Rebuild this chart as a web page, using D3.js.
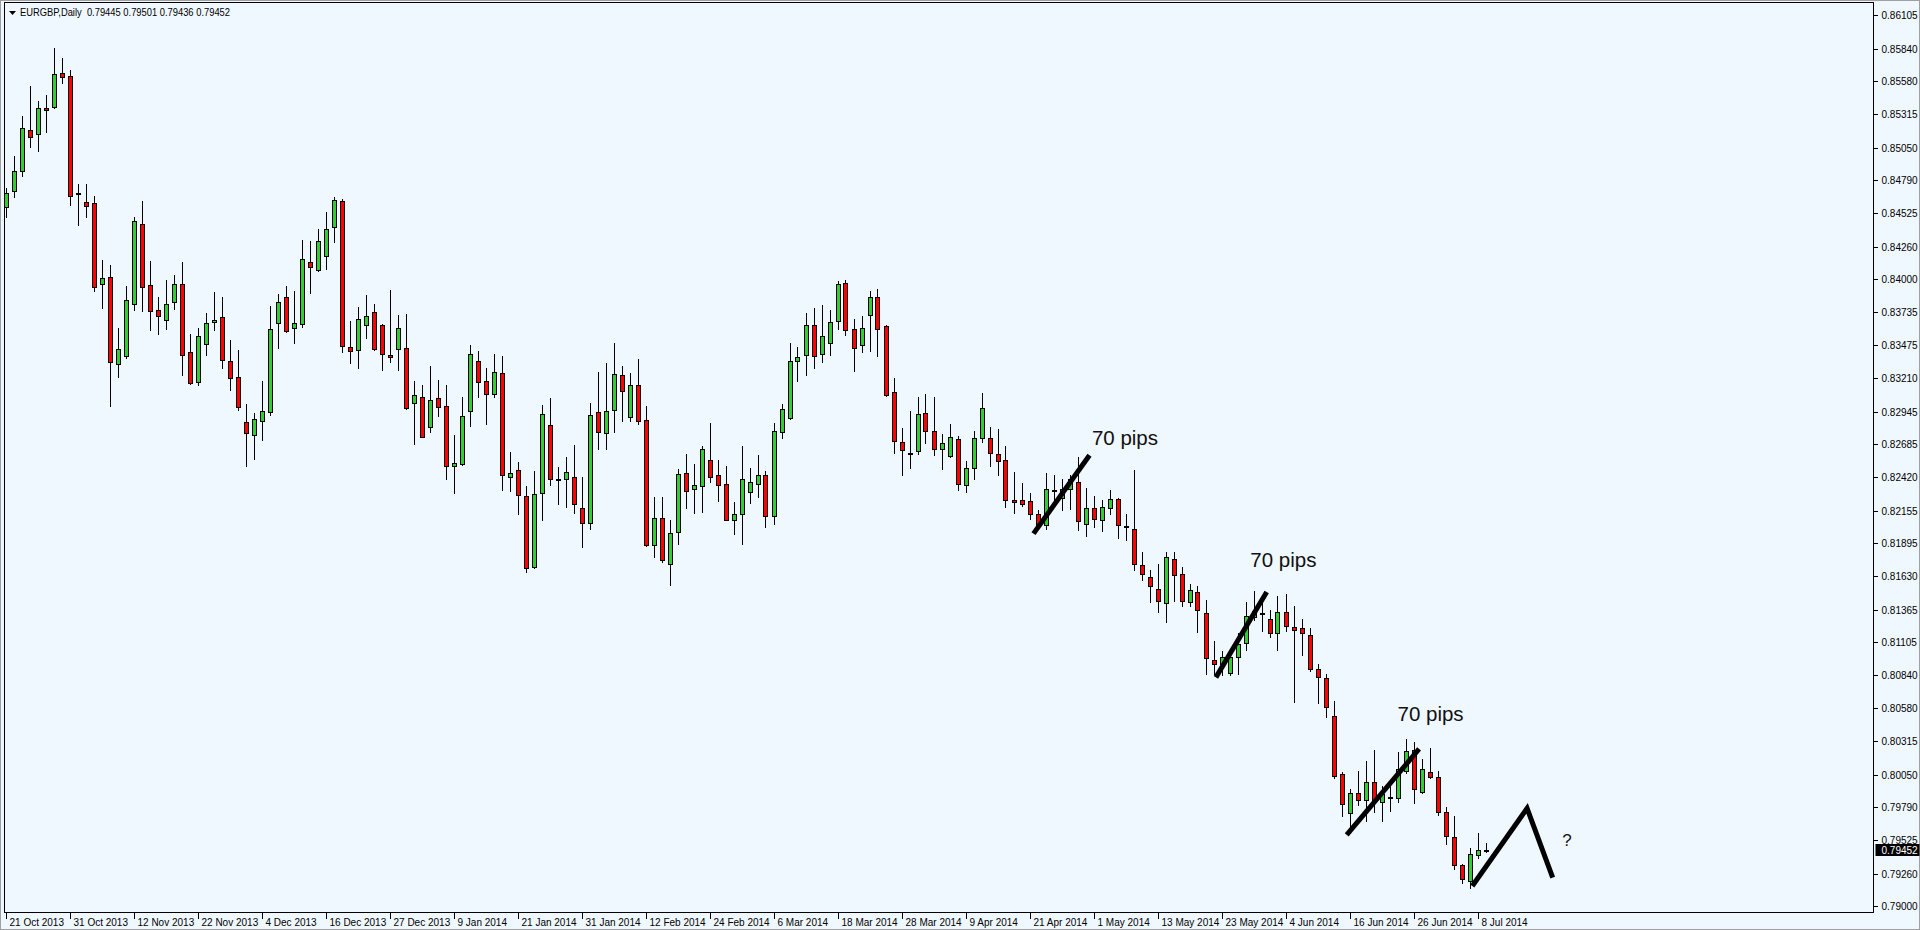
<!DOCTYPE html>
<html><head><meta charset="utf-8">
<script src="https://cdn.jsdelivr.net/npm/d3@7"></script>
<style>
html,body{margin:0;padding:0;background:#F0F8FF;overflow:hidden}
svg{display:block}
text{font-family:"Liberation Sans",Arial,sans-serif}
</style></head><body>
<script>
// ---- data: EURGBP daily candles (bar index 0 = 21 Oct 2013) ----
const opens = [0.84574,0.84701,0.84858,0.85188,0.85156,0.85363,0.85371,0.85642,0.85619,0.84690,0.84614,0.84606,0.83960,0.84016,0.83322,0.83386,0.83800,0.84438,0.83952,0.83752,0.83673,0.83816,0.83960,0.83417,0.83178,0.83481,0.83657,0.83697,0.83346,0.83218,0.82859,0.82756,0.82867,0.82939,0.83649,0.83856,0.83609,0.83641,0.84135,0.84074,0.84183,0.84414,0.84622,0.83457,0.83433,0.83633,0.83736,0.83633,0.83394,0.83441,0.83449,0.83011,0.83059,0.82819,0.83051,0.82987,0.82508,0.82524,0.82947,0.83346,0.83186,0.83082,0.83250,0.82420,0.82476,0.82269,0.81703,0.82293,0.82835,0.82409,0.82405,0.82420,0.82173,0.82054,0.82939,0.82771,0.82955,0.83234,0.82899,0.83154,0.82875,0.81878,0.82094,0.81727,0.81982,0.82452,0.82325,0.82349,0.82556,0.82436,0.82365,0.82078,0.82126,0.82301,0.82365,0.82436,0.82110,0.82779,0.82891,0.83346,0.83394,0.83633,0.83402,0.83489,0.83665,0.83968,0.83601,0.83473,0.83712,0.83856,0.83625,0.83098,0.82700,0.82617,0.82628,0.82931,0.82787,0.82644,0.82588,0.82724,0.82357,0.82492,0.82732,0.82732,0.82604,0.82556,0.82237,0.82237,0.82229,0.82126,0.82038,0.82317,0.82255,0.82325,0.82381,0.82046,0.82173,0.82078,0.82173,0.82245,0.82034,0.82006,0.81719,0.81623,0.81527,0.81416,0.81767,0.81647,0.81424,0.81503,0.81336,0.80961,0.80929,0.80857,0.80985,0.81097,0.81309,0.81336,0.81288,0.81176,0.81344,0.81224,0.81216,0.81160,0.80889,0.80818,0.80515,0.80052,0.79749,0.79900,0.79845,0.79988,0.79831,0.79873,0.79861,0.80076,0.80246,0.79908,0.80068,0.80028,0.79749,0.79550,0.79326,0.79199,0.79406,0.79445];
const highs = [0.84725,0.84983,0.85302,0.85541,0.85421,0.85469,0.85844,0.85764,0.85669,0.84760,0.84760,0.84664,0.84154,0.84114,0.83611,0.83946,0.84496,0.84624,0.84146,0.83858,0.83994,0.84034,0.84138,0.83563,0.83611,0.83728,0.83898,0.83858,0.83516,0.83436,0.83005,0.82933,0.83189,0.83787,0.83882,0.83946,0.83906,0.84313,0.84305,0.84401,0.84536,0.84656,0.84640,0.83667,0.83779,0.83874,0.83803,0.83643,0.83914,0.83715,0.83723,0.83189,0.83157,0.83306,0.83197,0.83157,0.82758,0.83061,0.83476,0.83428,0.83292,0.83404,0.83388,0.82622,0.82543,0.82351,0.82471,0.82997,0.83053,0.82503,0.82582,0.82678,0.82423,0.83013,0.83260,0.83332,0.83492,0.83308,0.83252,0.83364,0.82989,0.82263,0.82263,0.82080,0.82484,0.82606,0.82527,0.82670,0.82854,0.82559,0.82511,0.82224,0.82670,0.82495,0.82598,0.82471,0.82854,0.83005,0.83492,0.83460,0.83731,0.83771,0.83795,0.83755,0.83986,0.83994,0.83683,0.83707,0.83906,0.83922,0.83633,0.83212,0.82814,0.82949,0.83061,0.83085,0.83061,0.82766,0.82846,0.82750,0.82551,0.82790,0.83093,0.82822,0.82806,0.82670,0.82463,0.82375,0.82295,0.82160,0.82455,0.82439,0.82407,0.82439,0.82582,0.82333,0.82269,0.82237,0.82317,0.82255,0.82126,0.82479,0.81822,0.81679,0.81727,0.81822,0.81822,0.81705,0.81570,0.81554,0.81440,0.81113,0.81033,0.81019,0.81176,0.81426,0.81514,0.81426,0.81362,0.81474,0.81490,0.81394,0.81290,0.81219,0.80929,0.80849,0.80634,0.80068,0.79932,0.80076,0.80156,0.80246,0.79959,0.79959,0.80232,0.80334,0.80307,0.80172,0.80259,0.80076,0.79789,0.79717,0.79334,0.79462,0.79581,0.79501];
const lows = [0.84494,0.84658,0.84826,0.85057,0.85025,0.85177,0.85365,0.85563,0.84594,0.84435,0.84499,0.83909,0.83773,0.82992,0.83223,0.83374,0.83757,0.83749,0.83598,0.83566,0.83606,0.83765,0.83239,0.83168,0.83154,0.83398,0.83598,0.83295,0.83119,0.82960,0.82513,0.82569,0.82720,0.82915,0.83454,0.83583,0.83494,0.83617,0.83893,0.84068,0.84084,0.84299,0.83422,0.83334,0.83295,0.83534,0.83433,0.83279,0.83342,0.83279,0.82969,0.82688,0.82738,0.82784,0.82912,0.82409,0.82298,0.82522,0.82832,0.83063,0.82848,0.83063,0.82322,0.82314,0.82130,0.81668,0.81700,0.82082,0.82362,0.82210,0.82186,0.82138,0.81867,0.82008,0.82649,0.82649,0.82784,0.82872,0.82872,0.82848,0.81873,0.81787,0.81743,0.81562,0.81891,0.82178,0.82138,0.82146,0.82385,0.82234,0.82076,0.81971,0.81891,0.82218,0.82266,0.82027,0.82050,0.82730,0.82889,0.83191,0.83239,0.83295,0.83342,0.83398,0.83606,0.83553,0.83271,0.83422,0.83430,0.83390,0.83072,0.82617,0.82441,0.82497,0.82609,0.82696,0.82601,0.82489,0.82586,0.82317,0.82301,0.82405,0.82704,0.82513,0.82441,0.82186,0.82138,0.82194,0.82086,0.82014,0.82006,0.82213,0.82160,0.82165,0.81998,0.81950,0.82027,0.81990,0.82130,0.81934,0.81921,0.81679,0.81599,0.81424,0.81344,0.81264,0.81432,0.81392,0.81392,0.81184,0.80849,0.80849,0.80841,0.80841,0.80849,0.81041,0.81283,0.81192,0.81144,0.81041,0.81192,0.80631,0.81001,0.80873,0.80623,0.80511,0.80020,0.79717,0.79581,0.79805,0.79677,0.79754,0.79677,0.79757,0.79829,0.80060,0.79821,0.79906,0.80026,0.79725,0.79494,0.79294,0.79183,0.79143,0.79382,0.79436];
const closes = [0.84685,0.84861,0.85204,0.85129,0.85363,0.85347,0.85634,0.85610,0.84661,0.84690,0.84582,0.83933,0.84008,0.83338,0.83441,0.83832,0.84462,0.83936,0.83744,0.83704,0.83800,0.83960,0.83394,0.83170,0.83547,0.83649,0.83673,0.83354,0.83210,0.82976,0.82771,0.82883,0.82947,0.83601,0.83816,0.83585,0.83649,0.84159,0.84095,0.84303,0.84398,0.84630,0.83465,0.83425,0.83681,0.83704,0.83441,0.83402,0.83377,0.83609,0.82971,0.83074,0.82740,0.83035,0.82979,0.82508,0.82532,0.82907,0.83402,0.83178,0.83082,0.83258,0.82436,0.82452,0.82277,0.81695,0.82285,0.82923,0.82405,0.82409,0.82460,0.82205,0.82054,0.82915,0.82779,0.82947,0.83242,0.83106,0.83154,0.82867,0.81875,0.82094,0.81759,0.81974,0.82444,0.82309,0.82359,0.82644,0.82420,0.82357,0.82078,0.82126,0.82405,0.82381,0.82436,0.82110,0.82787,0.82963,0.83346,0.83377,0.83633,0.83386,0.83545,0.83657,0.83960,0.83593,0.83449,0.83609,0.83856,0.83601,0.83074,0.82708,0.82636,0.82617,0.82923,0.82787,0.82644,0.82692,0.82740,0.82365,0.82492,0.82732,0.82971,0.82612,0.82548,0.82237,0.82221,0.82205,0.82126,0.82027,0.82325,0.82317,0.82325,0.82405,0.82070,0.82173,0.82086,0.82181,0.82245,0.82038,0.82034,0.81727,0.81647,0.81551,0.81432,0.81783,0.81639,0.81432,0.81519,0.81360,0.80977,0.80929,0.80985,0.80985,0.81089,0.81312,0.81357,0.81336,0.81176,0.81344,0.81232,0.81200,0.81176,0.80889,0.80825,0.80586,0.80036,0.79813,0.79905,0.79845,0.79988,0.79847,0.79895,0.79873,0.80092,0.80235,0.79932,0.80092,0.80028,0.79749,0.79558,0.79326,0.79215,0.79414,0.79446,0.79452];

const yTickValues = [0.86105,0.85840,0.85580,0.85315,0.85050,0.84790,0.84525,0.84260,0.84000,0.83735,0.83475,0.83210,0.82945,0.82685,0.82420,0.82155,0.81895,0.81630,0.81365,0.81105,0.80840,0.80580,0.80315,0.80050,0.79790,0.79525,0.79260,0.79000];
const xTickIndex = [0,8,16,24,32,40,48,56,64,72,80,88,96,104,112,120,128,136,144,152,160,168,176,184];
const xTickLabels = ["21 Oct 2013","31 Oct 2013","12 Nov 2013","22 Nov 2013","4 Dec 2013","16 Dec 2013","27 Dec 2013","9 Jan 2014","21 Jan 2014","31 Jan 2014","12 Feb 2014","24 Feb 2014","6 Mar 2014","18 Mar 2014","28 Mar 2014","9 Apr 2014","21 Apr 2014","1 May 2014","13 May 2014","23 May 2014","4 Jun 2014","16 Jun 2014","26 Jun 2014","8 Jul 2014"];
const titleText = "EURGBP,Daily  0.79445 0.79501 0.79436 0.79452";
const lastPrice = 0.79452;

// annotation lines, in (bar index, price)
const pipLines = [
  [[128.5,0.81971],[135.5,0.82596]],
  [[151.3,0.80825],[157.65,0.81506]],
  [[167.65,0.79568],[176.7,0.80254]]
];
const pipLabels = [[135.8,0.82678,"70 pips"],[155.6,0.81708,"70 pips"],[174.0,0.80477,"70 pips"]];
const zigzag = [[183.35,0.79161],[190.2,0.79781],[193.4,0.79227]];
const questionMark = [194.6,0.79480,"?"];

// ---- drawing ----
const W = 1920, H = 930;
const frame = {l:4.5, r:1873.5, t:2.5, b:912.5};
const svg = d3.select("body").append("svg").attr("width",W).attr("height",H);
svg.append("rect").attr("width",W).attr("height",H).attr("fill","#F0F8FF");

const x = d3.scaleLinear().domain([0,185]).range([5.5, 5.5+8*185]);
const y = d3.scaleLinear().domain([0.79000,0.86105]).range([906.2,15.3]);

const data = opens.map((o,i)=>({i,o,h:highs[i],l:lows[i],c:closes[i]}));

const plot = svg.append("g");
plot.append("defs").append("clipPath").attr("id","clip")
  .append("rect").attr("x",frame.l).attr("y",frame.t).attr("width",frame.r-frame.l).attr("height",frame.b-frame.t);
const cg = plot.append("g").attr("clip-path","url(#clip)");

const candle = cg.selectAll("g.c").data(data).join("g").attr("class","c");
candle.append("line")
  .attr("x1",d=>Math.round(x(d.i))+0.5).attr("x2",d=>Math.round(x(d.i))+0.5)
  .attr("y1",d=>Math.round(y(d.h))).attr("y2",d=>Math.round(y(d.l))+1)
  .attr("stroke","#000").attr("stroke-width",1).attr("shape-rendering","crispEdges");
candle.filter(d=>Math.abs(y(d.o)-y(d.c))>=1.5).append("rect")
  .attr("x",d=>Math.round(x(d.i))-1.5).attr("width",4)
  .attr("y",d=>Math.round(Math.min(y(d.o),y(d.c)))+0.5)
  .attr("height",d=>Math.max(1,Math.round(Math.abs(y(d.o)-y(d.c)))))
  .attr("fill",d=>d.c>=d.o?"#32CD32":"#FF0000")
  .attr("stroke","#000").attr("stroke-width",1).attr("shape-rendering","crispEdges");
candle.filter(d=>Math.abs(y(d.o)-y(d.c))<1.5).append("line")
  .attr("x1",d=>Math.round(x(d.i))-2).attr("x2",d=>Math.round(x(d.i))+3)
  .attr("y1",d=>Math.round(y(d.c))+0.5).attr("y2",d=>Math.round(y(d.c))+0.5)
  .attr("stroke","#000").attr("stroke-width",2).attr("shape-rendering","crispEdges");

// frame
svg.append("rect").attr("x",0.5).attr("y",0.5).attr("width",W-1).attr("height",H-1)
  .attr("fill","none").attr("stroke","#A0A0A0");
svg.append("rect").attr("x",frame.l).attr("y",frame.t).attr("width",frame.r-frame.l).attr("height",frame.b-frame.t)
  .attr("fill","none").attr("stroke","#000").attr("stroke-width",1);

// y axis
const yAxis = d3.axisRight(y).tickValues(yTickValues).tickFormat(d3.format(".5f")).tickSize(4).tickPadding(4);
const yg = svg.append("g").attr("transform",`translate(${frame.r},0)`).call(yAxis);
yg.select(".domain").remove();
yg.selectAll("line").attr("stroke","#000").attr("shape-rendering","crispEdges");
yg.selectAll("text").attr("font-size","10px").attr("fill","#000").attr("font-family","Liberation Sans, Arial, sans-serif");
yg.selectAll(".tick").attr("transform",d=>`translate(0,${Math.round(y(d))+0.5})`);

// last price box
const lp = svg.append("g").attr("transform",`translate(${frame.r+2},${Math.round(y(lastPrice))})`);
lp.append("rect").attr("x",0).attr("y",-6).attr("width",44).attr("height",12).attr("fill","#000");
lp.append("text").attr("x",6).attr("y",4).attr("fill","#fff").attr("font-size","10px").text(d3.format(".5f")(lastPrice));

// x axis
const xg = svg.append("g");
xTickIndex.forEach((idx,k)=>{
  const px = Math.round(x(idx))+0.5;
  xg.append("line").attr("x1",px).attr("x2",px).attr("y1",frame.b).attr("y2",frame.b+6)
    .attr("stroke","#000").attr("shape-rendering","crispEdges");
  xg.append("text").attr("x",px+3).attr("y",frame.b+13).attr("font-size","10px").attr("fill","#000").text(xTickLabels[k]);
});

// title
svg.append("path").attr("d","M9,11 L16,11 L12.5,15 Z").attr("fill","#000");
svg.append("text").attr("x",20).attr("y",16).attr("font-size","10.5px").attr("fill","#000")
  .attr("textLength",210).attr("lengthAdjust","spacingAndGlyphs").attr("xml:space","preserve").text(titleText);

// annotations
const ag = svg.append("g");
const line = d3.line().x(d=>x(d[0])).y(d=>y(d[1]));
pipLines.forEach(p=>{
  ag.append("path").attr("d",line(p)).attr("fill","none").attr("stroke","#000").attr("stroke-width",5);
});
ag.append("path").attr("d",line(zigzag)).attr("fill","none").attr("stroke","#000").attr("stroke-width",5).attr("stroke-linejoin","miter");
pipLabels.forEach(p=>{
  ag.append("text").attr("x",x(p[0])).attr("y",y(p[1])).attr("font-family","DejaVu Sans, sans-serif")
    .attr("font-size","20.5px").attr("fill","#111").text(p[2]);
});
ag.append("text").attr("x",x(questionMark[0])).attr("y",y(questionMark[1])).attr("font-family","DejaVu Sans, sans-serif")
  .attr("font-size","17px").attr("fill","#111").text(questionMark[2]);
</script>
</body></html>
